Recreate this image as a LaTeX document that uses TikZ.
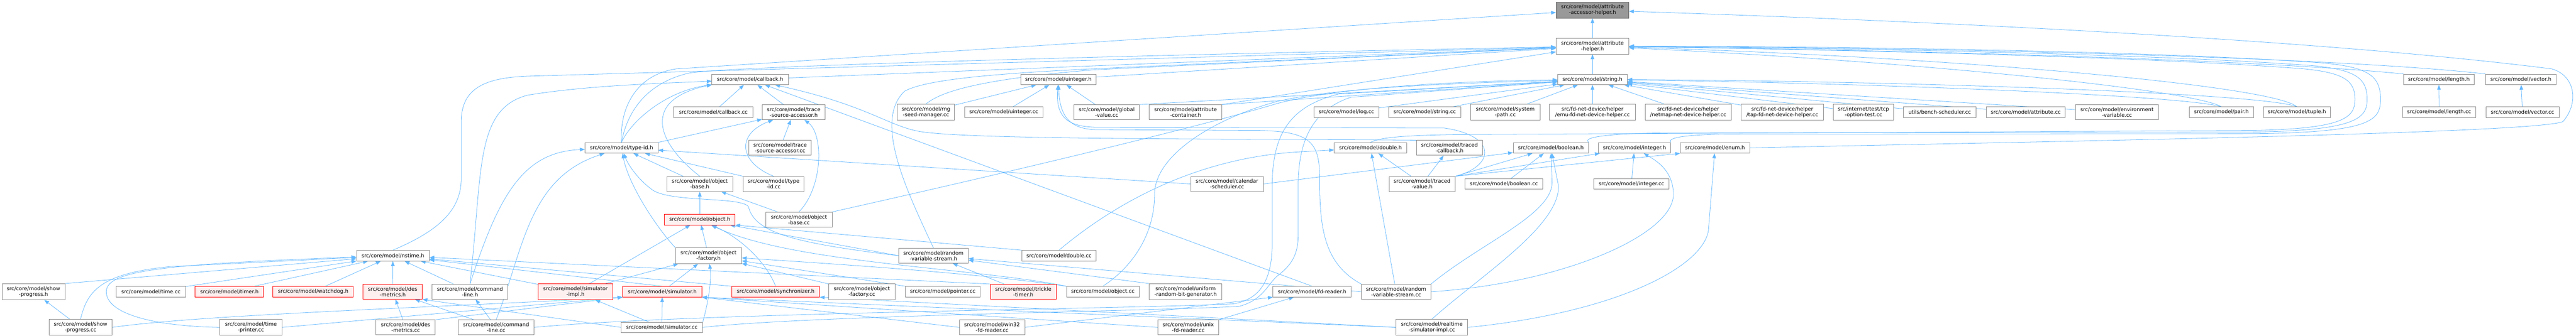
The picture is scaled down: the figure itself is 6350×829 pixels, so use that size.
\documentclass[tikz,border=0pt]{standalone}
\usepackage{fontspec}
\setmainfont{DejaVu Sans}
\usetikzlibrary{arrows.meta}
\definecolor{edgec}{HTML}{63B8FF}
\definecolor{nodeb}{HTML}{888888}
\definecolor{redb}{HTML}{FF0000}
\definecolor{redf}{HTML}{FFF0F0}
\definecolor{rootf}{HTML}{999999}
\definecolor{rootb}{HTML}{666666}
\pgfdeclarelayer{bg}
\pgfsetlayers{bg,main}
\tikzset{
 nb/.style={draw=nodeb, line width=1.1pt, fill=white, text=black, font=\fontsize{12.75}{14}\selectfont, align=center, inner xsep=2pt, inner ysep=6.5pt, minimum height=26pt},
 rd/.style={nb, draw=redb, fill=redf},
 rt/.style={nb, draw=rootb, fill=rootf},
 e/.style={draw=edgec, line width=1pt, -{Triangle[length=12pt,width=9pt]}},
}
\newcommand{\mknode}[6]{\node[#1, minimum width=#5pt] (#2) at (#3,#4) {#6};}
\begin{document}
\begin{tikzpicture}[x=1pt,y=-1pt]
\useasboundingbox (0,0) rectangle (6350,829);
% ---------------- nodes
\mknode{rt}{A}{3925.5}{25}{179}{src/core/model/attribute\\-accessor-helper.h}
\mknode{nb}{H}{3925.5}{114}{179}{src/core/model/attribute\\-helper.h}
\mknode{nb}{cb}{1849}{196}{188}{src/core/model/callback.h}
\mknode{nb}{uih}{2609}{196}{186}{src/core/model/uinteger.h}
\mknode{nb}{S}{3925.5}{196}{171}{src/core/model/string.h}
\mknode{nb}{lenh}{6012}{196}{174}{src/core/model/length.h}
\mknode{nb}{vech}{6214}{196}{174}{src/core/model/vector.h}
% row 277
\mknode{nb}{cbcc}{1758.5}{277}{195}{src/core/model/callback.cc}
\mknode{nb}{tsah}{1956.5}{277}{155}{src/core/model/trace\\-source-accessor.h}
\mknode{nb}{rng}{2282.5}{277}{141}{src/core/model/rng\\-seed-manager.cc}
\mknode{nb}{uicc}{2474.5}{277}{193}{src/core/model/uinteger.cc}
\mknode{nb}{gv}{2728}{277}{162}{src/core/model/global\\-value.cc}
\mknode{nb}{ac}{2922.5}{277}{179}{src/core/model/attribute\\-container.h}
\mknode{nb}{logcc}{3319}{277}{160}{src/core/model/log.cc}
\mknode{nb}{strcc}{3512}{277}{178}{src/core/model/string.cc}
\mknode{nb}{sp}{3710.5}{277}{171}{src/core/model/system\\-path.cc}
\mknode{nb}{emu}{3925.5}{277}{211}{src/fd-net-device/helper\\/emu-fd-net-device-helper.cc}
\mknode{nb}{netmap}{4161.5}{277}{213}{src/fd-net-device/helper\\/netmap-net-device-helper.cc}
\mknode{nb}{tap}{4393.5}{277}{203}{src/fd-net-device/helper\\/tap-fd-net-device-helper.cc}
\mknode{nb}{tcp}{4593.5}{277}{149}{src/internet/test/tcp\\-option-test.cc}
\mknode{nb}{bench}{4781.5}{277}{179}{utils/bench-scheduler.cc}
\mknode{nb}{attcc}{4993.5}{277}{195}{src/core/model/attribute.cc}
\mknode{nb}{env}{5218.5}{277}{205}{src/core/model/environment\\-variable.cc}
\mknode{nb}{pair}{5476}{277}{158}{src/core/model/pair.h}
\mknode{nb}{tuple}{5662}{277}{166}{src/core/model/tuple.h}
\mknode{nb}{lencc}{6012.5}{277}{181}{src/core/model/length.cc}
\mknode{nb}{veccc}{6218}{277}{180}{src/core/model/vector.cc}
% row 365
\mknode{nb}{tid}{1532}{365}{180}{src/core/model/type-id.h}
\mknode{nb}{tsacc}{1923}{365}{154}{src/core/model/trace\\-source-accessor.cc}
\mknode{nb}{dblh}{3378.5}{365}{179}{src/core/model/double.h}
\mknode{nb}{tch}{3573}{365}{162}{src/core/model/traced\\-callback.h}
\mknode{nb}{boolh}{3823}{365}{186}{src/core/model/boolean.h}
\mknode{nb}{inth}{4029}{365}{178}{src/core/model/integer.h}
\mknode{nb}{enumh}{4227.5}{365}{171}{src/core/model/enum.h}
% row 454
\mknode{nb}{obh}{1725}{454}{162}{src/core/model/object\\-base.h}
\mknode{nb}{tidcc}{1907}{454}{150}{src/core/model/type\\-id.cc}
\mknode{nb}{cal}{3024.5}{454}{179}{src/core/model/calendar\\-scheduler.cc}
\mknode{nb}{tvh}{3505.5}{454}{163}{src/core/model/traced\\-value.h}
\mknode{nb}{boolcc}{3707}{454}{192}{src/core/model/boolean.cc}
\mknode{nb}{intcc}{4021.5}{454}{185}{src/core/model/integer.cc}
% row 542
\mknode{rd}{objh}{1725}{542}{174}{src/core/model/object.h}
\mknode{nb}{obcc}{1969.5}{542}{163}{src/core/model/object\\-base.cc}
% row 631
\mknode{nb}{nst}{968.5}{631}{179}{src/core/model/nstime.h}
\mknode{nb}{ofh}{1746.5}{631}{163}{src/core/model/object\\-factory.h}
\mknode{nb}{rvsh}{2301}{631}{172}{src/core/model/random\\-variable-stream.h}
\mknode{nb}{dblcc}{2610.5}{631}{183}{src/core/model/double.cc}
% row 720
\mknode{nb}{sph}{82.5}{720}{155}{src/core/model/show\\-progress.h}
\mknode{nb}{timecc}{372}{720}{172}{src/core/model/time.cc}
\mknode{rd}{timerh}{565.5}{720}{169}{src/core/model/timer.h}
\mknode{rd}{wd}{772}{720}{198}{src/core/model/watchdog.h}
\mknode{rd}{dmh}{968}{720}{146}{src/core/model/des\\-metrics.h}
\mknode{nb}{clh}{1158.5}{720}{187}{src/core/model/command\\-line.h}
\mknode{rd}{simih}{1418.5}{720}{183}{src/core/model/simulator\\-impl.h}
\mknode{rd}{simh}{1632.5}{720}{195}{src/core/model/simulator.h}
\mknode{rd}{synch}{1912}{720}{216}{src/core/model/synchronizer.h}
\mknode{nb}{ofcc}{2124.5}{720}{163}{src/core/model/object\\-factory.cc}
\mknode{nb}{ptrcc}{2324}{720}{184}{src/core/model/pointer.cc}
\mknode{rd}{tt}{2522.5}{720}{163}{src/core/model/trickle\\-timer.h}
\mknode{nb}{objcc}{2718.5}{720}{179}{src/core/model/object.cc}
\mknode{nb}{urbg}{2922.5}{720}{179}{src/core/model/uniform\\-random-bit-generator.h}
\mknode{nb}{fdh}{3234.5}{720}{193}{src/core/model/fd-reader.h}
\mknode{nb}{rvscc}{3441.5}{720}{171}{src/core/model/random\\-variable-stream.cc}
% row 808
\mknode{nb}{spcc}{198.5}{808}{155}{src/core/model/show\\-progress.cc}
\mknode{nb}{tpcc}{618.5}{808}{153}{src/core/model/time\\-printer.cc}
\mknode{nb}{dmcc}{1000}{808}{146}{src/core/model/des\\-metrics.cc}
\mknode{nb}{clcc}{1223}{808}{186}{src/core/model/command\\-line.cc}
\mknode{nb}{simcc}{1631.5}{808}{201}{src/core/model/simulator.cc}
\mknode{nb}{w32}{2445.5}{808}{161}{src/core/model/win32\\-fd-reader.cc}
\mknode{nb}{unix}{2929}{808}{150}{src/core/model/unix\\-fd-reader.cc}
\mknode{nb}{rtcc}{3529.5}{808}{177}{src/core/model/realtime\\-simulator-impl.cc}
% ---------------- edges
\begin{pgfonlayer}{bg}
\fill[white] (0,0) rectangle (6350,829);
% root
\draw[e] (H) -- (A);
\draw[e] (tid.north) .. controls (1527,270) and (1565,185) .. (1667,170) -- (A);
\draw[e] (enumh.east) .. controls (5000,350) and (6250,330) .. (6318,300) .. controls (6360,250) and (6345,185) .. (6290,170) .. controls (5700,95) and (4700,50) .. (A);
% attribute-helper
\draw[e] (S) -- (H);
\draw[e] (cb) -- (H);
\draw[e] (uih) -- (H);
\draw[e] (ac.north east) -- (H);
\draw[e] (nst.north) .. controls (1080,570) and (1137,520) .. (1137,440) -- (1137,300) .. controls (1137,215) and (1200,192) .. (1300,188) .. controls (2000,168) and (3000,140) .. (H);
\draw[e] (tid.north) .. controls (1545,280) and (1590,205) .. (1700,180) .. controls (1800,165) and (2600,140) .. (H);
\draw[e] (rng.north) .. controls (2320,225) and (2420,195) .. (2700,172) -- (H);
\draw[e] (rvsh.north) .. controls (2240,480) and (2150,300) .. (2230,225) .. controls (2290,192) and (2500,178) .. (2800,165) -- (H);
\draw[e] (lenh.north west) .. controls (5600,150) and (4800,125) .. (H);
\draw[e] (vech.north west) .. controls (5800,145) and (4900,118) .. (H);
\draw[e] (pair.north) .. controls (5400,220) and (4700,150) .. (H);
\draw[e] (tuple.north) .. controls (5600,210) and (4800,140) .. (H);
\draw[e] (dblh.north) .. controls (3400,340) and (3450,334) .. (3600,332) -- (5550,322) .. controls (5780,318) and (5805,290) .. (5805,245) .. controls (5805,200) and (5780,180) .. (5680,170) .. controls (5300,140) and (4500,122) .. (H);
\draw[e] (boolh.north east) .. controls (3900,340) and (3950,330) .. (4100,328) -- (5550,326) .. controls (5810,322) and (5835,292) .. (5835,245) .. controls (5835,195) and (5810,172) .. (5700,162) .. controls (5300,132) and (4500,118) .. (H);
\draw[e] (inth.north east) .. controls (4110,340) and (4150,333) .. (4250,331) -- (5550,330) .. controls (5845,327) and (5868,298) .. (5868,245) .. controls (5868,188) and (5840,165) .. (5720,155) .. controls (5300,125) and (4500,114) .. (H);
% string
\foreach \n in {logcc,strcc,sp,emu,netmap,tap,tcp,bench,attcc,env} \draw[e] (\n) -- (S);
\draw[e] (pair.north) .. controls (5380,235) and (4600,205) .. (S);
\draw[e] (tuple.north) .. controls (5580,230) and (4700,200) .. (S);
\draw[e] (ac.north east) -- (S);
\draw[e] (gv.north east) -- (S);
\draw[e] (obcc.north east) .. controls (2600,400) and (3000,300) .. (3150,255) .. controls (3300,215) and (3600,200) .. (S);
\draw[e] (objcc.north) .. controls (2790,660) and (2846,580) .. (2846,480) .. controls (2846,380) and (3000,290) .. (3150,250) .. controls (3300,215) and (3600,205) .. (S);
\draw[e] (clcc.east) .. controls (1700,772) and (2800,762) .. (3040,750) .. controls (3100,740) and (3136,700) .. (3136,600) -- (3136,460) .. controls (3136,330) and (3180,262) .. (3300,232) -- (S);
\draw[e] (simcc.east) .. controls (2000,778) and (2850,768) .. (3055,756) .. controls (3115,740) and (3125,700) .. (3150,680) .. controls (3190,650) and (3200,620) .. (3200,580) -- (3200,460) .. controls (3200,340) and (3240,270) .. (3330,240) -- (S);
% uinteger
\draw[e] (rng) -- (uih);
\draw[e] (uicc) -- (uih);
\draw[e] (gv) -- (uih);
\draw[e] (rvscc.north west) .. controls (3262,650) and (3253,560) .. (3253,440) .. controls (3253,350) and (3230,324) .. (3100,322) -- (2700,320) .. controls (2640,318) and (2612,290) .. (uih);
\draw[e] (tvh.north east) .. controls (3685,410) and (3692,335) .. (3560,316) -- (2700,314) .. controls (2632,312) and (2602,290) .. (uih);
% length / vector
\draw[e] (lencc) -- (lenh);
\draw[e] (veccc) -- (vech);
% callback
\draw[e] (cbcc) -- (cb);
\draw[e] (tsah) -- (cb);
\draw[e] (tid.north) .. controls (1555,300) and (1640,225) .. (cb);
\draw[e] (obh.north) .. controls (1680,400) and (1610,330) .. (1640,270) .. controls (1655,240) and (1700,220) .. (cb.south west);
\draw[e] (clh.north) .. controls (1190,420) and (1170,270) .. (1300,235) .. controls (1450,210) and (1650,205) .. (cb);
\draw[e] (tch.north west) .. controls (3000,342) and (2400,345) .. (2270,325) .. controls (2190,312) and (2140,260) .. (cb);
\draw[e] (fdh.north) -- (cb);
% type-id, trace source accessor, object base
\draw[e] (tsacc) -- (tsah);
\draw[e] (tid.north east) -- (tsah);
\draw[e] (tidcc.north) .. controls (1820,400) and (1815,330) .. (tsah);
\draw[e] (obcc.north) .. controls (2030,460) and (2030,330) .. (tsah);
\draw[e] (obh) -- (tid);
\draw[e] (tidcc.north west) -- (tid);
\draw[e] (clh.north) .. controls (1230,480) and (1290,375) .. (tid);
\draw[e] (clcc.north) .. controls (1290,620) and (1300,440) .. (tid);
\draw[e] (cal.west) -- (tid);
\draw[e] (ofh.north west) .. controls (1625,570) and (1550,460) .. (tid);
\draw[e] (rvsh.west) .. controls (1960,600) and (1860,575) .. (1845,510) .. controls (1825,485) and (1660,500) .. (1610,470) .. controls (1575,445) and (1550,410) .. (tid);
\draw[e] (objh) -- (obh);
\draw[e] (obcc) -- (obh);
% object, object factory
\draw[e] (ofh) -- (objh);
\draw[e] (simih) -- (objh);
\draw[e] (synch.north) .. controls (1890,650) and (1830,590) .. (objh);
\draw[e] (rvsh.west) -- (objh);
\draw[e] (dblcc.north west) -- (objh.south east);
\draw[e] (objcc.north west) .. controls (2400,660) and (1950,650) .. (objh);
\draw[e] (simih) -- (ofh);
\draw[e] (simh) -- (ofh);
\draw[e] (ofcc) -- (ofh);
\draw[e] (ptrcc.north west) -- (ofh);
\draw[e] (objcc.north west) .. controls (2400,672) and (2000,648) .. (ofh);
\draw[e] (simcc.north east) .. controls (1742,760) and (1755,700) .. (ofh);
% random variable stream
\draw[e] (tt) -- (rvsh);
\draw[e] (urbg.north west) -- (rvsh);
\draw[e] (rvscc.west) -- (rvsh);
% double, boolean, integer, enum, traced
\draw[e] (dblcc.north) .. controls (2750,500) and (2950,390) .. (3200,375) -- (dblh);
\draw[e] (rvscc) -- (dblh);
\draw[e] (tvh) -- (dblh);
\draw[e] (tvh) -- (tch);
\draw[e] (tvh.north east) -- (boolh);
\draw[e] (tvh.north east) -- (inth);
\draw[e] (tvh.north east) -- (enumh.south west);
\draw[e] (cal.east) -- (boolh);
\draw[e] (boolcc) -- (boolh);
\draw[e] (intcc) -- (inth);
\draw[e] (rvscc.north east) .. controls (3650,600) and (3826,530) .. (3826,450) -- (boolh);
\draw[e] (rtcc.north) .. controls (3650,680) and (3842,560) .. (3842,460) -- (boolh);
\draw[e] (rvscc.east) .. controls (3850,700) and (4125,580) .. (4125,480) .. controls (4125,420) and (4080,395) .. (inth);
\draw[e] (rtcc.east) .. controls (4000,770) and (4212,650) .. (4212,560) -- (enumh);
% fd reader, simulator, synchronizer
\draw[e] (w32.east) -- (fdh.south west);
\draw[e] (unix.north east) -- (fdh);
\draw[e] (w32.west) -- (simh.south east);
\draw[e] (unix.west) -- (simh.south east);
\draw[e] (rtcc.west) -- (simh.south east);
\draw[e] (rtcc.west) -- (synch.south east);
% nstime and bottom left
\draw[e] (spcc) -- (sph);
\draw[e] (sph.north east) -- (nst);
\draw[e] (spcc.north) .. controls (215,720) and (245,675) .. (420,658) -- (nst);
\draw[e] (spcc.east) .. controls (500,776) and (1100,758) .. (simh.south west);
\draw[e] (tpcc.west) .. controls (380,805) and (262,775) .. (262,720) .. controls (262,668) and (400,652) .. (nst);
\draw[e] (tpcc.east) -- (simh.south west);
\draw[e] (timecc) -- (nst);
\draw[e] (timerh) -- (nst);
\draw[e] (wd) -- (nst);
\draw[e] (dmh) -- (nst);
\draw[e] (clh) -- (nst);
\draw[e] (simih) -- (nst);
\draw[e] (simh.north) -- (nst);
\draw[e] (synch.north west) -- (nst);
\draw[e] (tt.north west) -- (nst);
\draw[e] (dmcc) -- (dmh);
\draw[e] (dmcc.north east) -- (simh.south west);
\draw[e] (clcc) -- (clh);
\draw[e] (clcc) -- (dmh);
\draw[e] (simcc) -- (simh);
\draw[e] (simcc) -- (simih);
\draw[e] (simcc.west) -- (dmh.south east);
\end{pgfonlayer}
\end{tikzpicture}
\end{document}
